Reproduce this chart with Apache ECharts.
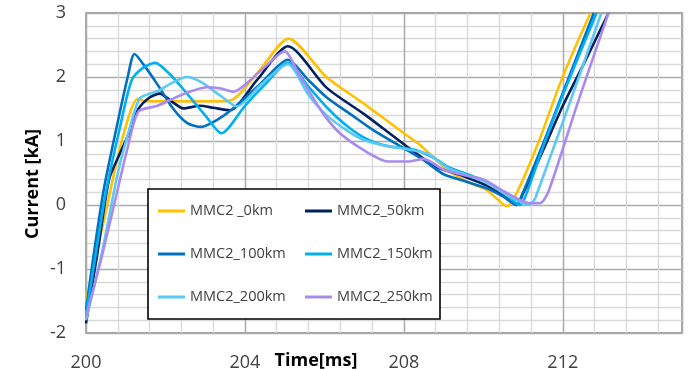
<!DOCTYPE html>
<html>
<head>
<meta charset="utf-8">
<script src="https://cdn.jsdelivr.net/npm/echarts@6/dist/echarts.min.js"></script>
<style>
  html, body { margin: 0; padding: 0; background: #fff; }
  #chart { width: 691px; height: 370px; }
</style>
</head>
<body>
<div id="chart"></div>
<script>
// series names, as in the legend
var names = ['MMC2 _0km', 'MMC2_50km', 'MMC2_100km', 'MMC2_150km', 'MMC2_200km', 'MMC2_250km'];
var colors = ['#FFC000', '#002060', '#0070C0', '#00B0F0', '#5BC8F5', '#A98BEF'];

// [time ms, current kA]
var km0 = [[200,-1.5],[200.5,-0.1],[200.9,1.0],[201.3,1.66],[201.5,1.62],[202.5,1.62],[203.6,1.63],[204.3,2.05],[205.1,2.6],
  [206.05,2.0],[207.0,1.58],[208.0,1.12],[208.4,0.94],[209.1,0.55],[209.6,0.36],[210.1,0.23],[210.6,-0.02],[210.85,0.2],
  [211.4,1.0],[211.9,1.85],[212.3,2.45],[212.7,3.0]];
var km50 = [[200,-1.85],[200.3,-0.7],[200.58,0.4],[200.85,0.8],[201.1,1.15],[201.32,1.5],[201.6,1.68],[201.86,1.74],[202.15,1.62],
  [202.45,1.51],[202.87,1.55],[203.2,1.52],[203.62,1.48],[204.3,1.95],[205.08,2.48],[206.06,1.83],[207.0,1.42],[208.0,0.95],
  [208.8,0.6],[209.5,0.45],[210.1,0.3],[210.5,0.15],[210.84,0.0],[211.0,0.18],[211.5,0.85],[212.0,1.55],[212.5,2.17],[213.15,3.0]];
var km100 = [[200,-1.65],[200.2,-0.75],[200.45,0.25],[200.8,1.3],[201.05,2.0],[201.22,2.36],[201.5,2.15],[201.78,1.9],[202.2,1.5],
  [202.55,1.28],[202.9,1.22],[203.3,1.33],[203.71,1.51],[204.4,1.9],[205.08,2.27],[205.6,1.95],[206.06,1.68],[206.7,1.4],
  [207.23,1.17],[207.99,0.89],[208.5,0.7],[209.0,0.48],[209.5,0.38],[210.09,0.26],[210.5,0.13],[210.84,0.0],[210.96,0.14],
  [211.5,0.95],[212.0,1.75],[212.78,3.0]];
var km150 = [[200,-1.72],[200.25,-0.75],[200.5,0.2],[200.85,1.2],[201.15,1.95],[201.45,2.15],[201.74,2.22],[202.1,2.05],[202.53,1.75],
  [203.0,1.4],[203.41,1.12],[204.0,1.55],[204.5,1.88],[205.08,2.22],[205.6,1.85],[206.1,1.5],[206.6,1.22],[207.1,1.02],
  [207.6,0.92],[208.3,0.86],[208.8,0.72],[209.1,0.6],[209.6,0.48],[210.1,0.36],[210.5,0.2],[210.92,0.0],[211.05,0.12],
  [211.5,0.9],[212.0,1.72],[212.85,3.0]];
var km200 = [[200,-1.8],[200.4,-0.75],[200.8,0.5],[201.1,1.2],[201.36,1.67],[201.8,1.78],[202.2,1.92],[202.53,2.0],[202.9,1.92],
  [203.4,1.7],[203.79,1.54],[204.4,1.88],[205.08,2.2],[205.6,1.72],[206.06,1.4],[206.6,1.15],[206.98,1.02],[207.5,0.93],
  [207.9,0.89],[208.6,0.8],[209.1,0.58],[209.6,0.46],[210.1,0.34],[210.6,0.15],[211.0,0.03],[211.17,0.0],[211.3,0.1],
  [211.34,0.16],[212.2,1.64],[212.97,3.0]];
var km250 = [[200,-1.75],[200.4,-0.8],[200.8,0.25],[201.05,0.9],[201.32,1.46],[201.8,1.55],[202.4,1.72],[203.04,1.84],[203.4,1.82],
  [203.7,1.77],[204.4,2.1],[205.0,2.4],[205.35,2.05],[205.72,1.67],[206.0,1.4],[206.39,1.12],[207.06,0.83],[207.6,0.68],
  [208.1,0.68],[208.5,0.72],[209.0,0.55],[209.5,0.47],[210.0,0.4],[210.5,0.22],[210.92,0.08],[211.17,0.03],[211.43,0.03],
  [211.64,0.21],[212.35,1.55],[213.15,3.0]];
var allData = [km0, km50, km100, km150, km200, km250];

var labelFont = '"Open Sans", "Noto Sans", sans-serif';

var chart = echarts.init(document.getElementById('chart'));

var series = names.map(function (n, i) {
  return {
    name: n,
    type: 'line',
    xAxisIndex: 0,
    data: allData[i],
    smooth: 0.25,
    symbol: 'none',
    clip: true,
    lineStyle: { color: colors[i], width: 2.6 },
    itemStyle: { color: colors[i] }
  };
});

chart.setOption({
  animation: false,
  grid: {
    left: 86, right: 9, top: 13, bottom: 37,
    outerBoundsMode: 'none',
    show: true, borderColor: '#7f7f7f', borderWidth: 1.5
  },
  legend: {
    data: names,
    left: 148,
    top: 189,
    width: 340,
    padding: [10, 7, 10, 10],
    itemGap: 19,
    itemWidth: 27,
    itemHeight: 3,
    icon: 'rect',
    borderColor: '#000',
    borderWidth: 1.6,
    backgroundColor: '#fff',
    formatter: function (n) { return '{t|' + n + '}'; },
    textStyle: {
      fontFamily: labelFont, fontSize: 14.5, color: '#404040',
      rich: { t: { fontFamily: labelFont, fontSize: 14.5, color: '#404040', width: 96, height: 24, lineHeight: 24 } }
    }
  },
  xAxis: [{
    type: 'value',
    min: 200,
    max: 215,
    interval: 4,
    z: 2,
    name: 'Time[ms]',
    nameLocation: 'middle',
    nameGap: 19,
    nameMoveOverlap: false,
    nameTextStyle: { fontFamily: labelFont, fontSize: 18, fontWeight: 'bold', color: '#000', padding: [0, 136, 0, 0] },
    axisLine: { show: false },
    axisTick: { show: false },
    axisLabel: { fontFamily: labelFont, fontSize: 18, color: '#404040', margin: 21, showMaxLabel: false },
    splitLine: { show: true, lineStyle: { color: '#ababab', width: 1.4 } }
  }, {
    type: 'value',
    min: 200,
    max: 215,
    interval: 0.8,
    z: 1,
    position: 'bottom',
    axisLine: { show: false },
    axisTick: { show: false },
    axisLabel: { show: false },
    splitLine: { show: true, lineStyle: { color: '#d9d9d9', width: 1.4 } }
  }],
  yAxis: {
    type: 'value',
    min: -2,
    max: 3,
    interval: 1,
    name: 'Current [kA]',
    nameLocation: 'middle',
    nameGap: 44,
    nameMoveOverlap: false,
    nameTextStyle: { fontFamily: labelFont, fontSize: 18, fontWeight: 'bold', color: '#000', padding: [0, 22, 0, 0] },
    axisLine: { show: false },
    axisTick: { show: false },
    axisLabel: { fontFamily: labelFont, fontSize: 18, color: '#404040', margin: 20 },
    splitLine: { show: true, lineStyle: { color: '#ababab', width: 1.4 } },
    minorTick: { show: false, splitNumber: 5 },
    minorSplitLine: { show: true, lineStyle: { color: '#d9d9d9', width: 1.4 } }
  },
  series: series
});
</script>
</body>
</html>
